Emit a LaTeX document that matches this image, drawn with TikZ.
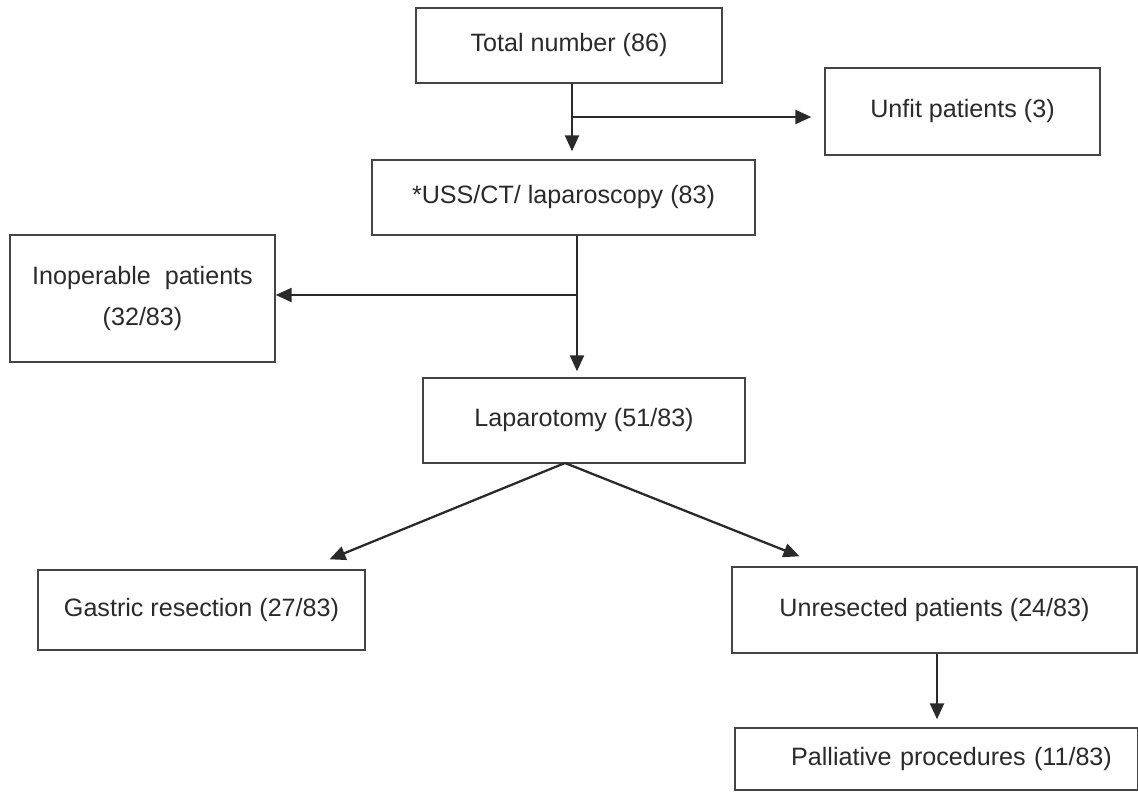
\documentclass[tikz,border=0pt]{standalone}
\usepackage{fontspec}
\setmainfont{Liberation Sans}
\usetikzlibrary{arrows.meta,calc}
\definecolor{ink}{HTML}{2A2A2A}
\definecolor{boxline}{HTML}{444444}
\begin{document}
\begin{tikzpicture}[x=0.02cm,y=-0.02cm,
  box/.style={draw=boxline,line width=0.8pt,fill=white,align=center,inner sep=2pt,
    font=\fontsize{14.3}{20}\selectfont,text=ink},
  arr/.style={draw=ink,line width=1.3pt,-{Triangle[length=0.32cm,width=0.28cm]}}]
\useasboundingbox (0,0) rectangle (1138,793);
\node[box,minimum width=6.12cm,minimum height=1.5cm] (total) at (569,45.5) {Total number (86)};
\node[box,minimum width=5.5cm,minimum height=1.74cm] (unfit) at (962.5,111.5) {Unfit patients (3)};
\node[box,minimum width=7.66cm,minimum height=1.5cm] (uss) at (563.5,197.5) {*USS/CT/ laparoscopy (83)};
\node[box,minimum width=5.3cm,minimum height=2.54cm,font=\fontsize{14.3}{22.8}\selectfont] (inop) at (142.5,298.5) {Inoperable\ \ patients\\(32/83)};
\node[box,minimum width=6.44cm,minimum height=1.7cm] (lap) at (584,420.5) {Laparotomy (51/83)};
\node[box,minimum width=6.54cm,minimum height=1.6cm] (gas) at (201.5,610) {Gastric resection (27/83)};
\node[box,minimum width=8.1cm,minimum height=1.72cm] (unres) at (934.5,610) {Unresected patients (24/83)};
\node[box,minimum width=8.06cm,minimum height=1.24cm,text width=7.8cm] (pall) at (936.5,759) {\hspace*{0.6cm}Palliative procedures (11/83)};
% connectors
\coordinate (c1) at (572,117);
\draw[arr] (total.south -| c1) -- ($(uss.north -| c1)+(0,-8)$);
\draw[arr] (c1) -- ($(unfit.west |- c1)+(-13,0)$);
\coordinate (c2) at (577,295);
\draw[arr] (uss.south -| c2) -- ($(lap.north -| c2)+(0,-6)$);
\draw[arr] (c2) -- (inop.east |- c2);
\coordinate (c3) at (565,463);
\draw[arr] (c3) -- ($(gas.north)+(128,-10)$);
\draw[arr] (c3) -- ($(unres.north)+(-135,-10)$);
\coordinate (c4) at (937,0);
\draw[arr] (unres.south -| c4) -- ($(pall.north -| c4)+(0,-8)$);
\end{tikzpicture}
\end{document}
